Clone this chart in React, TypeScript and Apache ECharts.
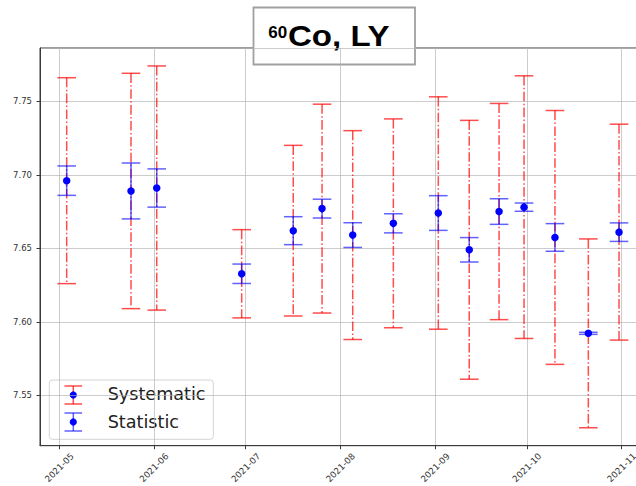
import React, { useEffect, useRef } from "react";
import * as echarts from "echarts";

// ---- data ----
const DATES = [
  "2021-05-03T10:00:00Z",
  "2021-05-24T11:00:00Z",
  "2021-06-01T21:00:00Z",
  "2021-06-29T16:00:00Z",
  "2021-07-16T13:00:00Z",
  "2021-07-25T23:00:00Z",
  "2021-08-05T00:00:00Z",
  "2021-08-18T07:00:00Z",
  "2021-09-02T00:00:00Z",
  "2021-09-12T03:00:00Z",
  "2021-09-21T21:00:00Z",
  "2021-09-30T01:00:00Z",
  "2021-10-10T04:00:00Z",
  "2021-10-21T02:00:00Z",
  "2021-10-31T03:00:00Z",
];
const VALUES = [7.696, 7.689, 7.691, 7.6327, 7.662, 7.677, 7.659, 7.667, 7.674, 7.649, 7.675, 7.678, 7.6574, 7.5922, 7.661];
const STAT_ERR = [0.010, 0.019, 0.013, 0.0066, 0.0095, 0.0064, 0.0084, 0.0065, 0.0118, 0.0083, 0.0087, 0.0028, 0.0094, 0.0007, 0.0063];
const SYS_ERR = [0.070, 0.080, 0.083, 0.030, 0.058, 0.071, 0.071, 0.071, 0.079, 0.088, 0.0735, 0.0893, 0.0863, 0.0642, 0.0734];
const LEGEND_NAMES = ["Systematic", "Statistic"];

const DAY = 86400000;
const MAY1 = Date.UTC(2021, 4, 1);
const X_MIN = MAY1 - 6.314 * DAY;
const X_MAX = MAY1 + 192.93 * DAY;

const RED = "rgba(255,0,0,0.7)";
const BLUE = "rgba(0,0,255,0.62)";
const CAP = 9.3;

function errRenderer(color: string, dash: number[] | null) {
  return (params: any, api: any) => {
    const x = api.value(0);
    const y = api.value(1);
    const e = api.value(2);
    const top = api.coord([x, y + e]);
    const bot = api.coord([x, y - e]);
    const st: any = { stroke: color, lineWidth: 1.5, fill: null };
    const mainSt: any = { ...st };
    if (dash) mainSt.lineDash = dash;
    return {
      type: "group",
      children: [
        { type: "line", shape: { x1: top[0], y1: top[1], x2: bot[0], y2: bot[1] }, style: mainSt },
        { type: "line", shape: { x1: top[0] - CAP, y1: top[1], x2: top[0] + CAP, y2: top[1] }, style: st },
        { type: "line", shape: { x1: bot[0] - CAP, y1: bot[1], x2: bot[0] + CAP, y2: bot[1] }, style: st },
      ],
    };
  };
}

export default function App() {
  const ref = useRef<HTMLDivElement>(null);
  useEffect(() => {
    const chart = echarts.init(ref.current!, null, { renderer: "svg" });
    const ts = DATES.map((d) => Date.parse(d));
    const sysData = ts.map((t, i) => [t, VALUES[i], SYS_ERR[i]]);
    const statData = ts.map((t, i) => [t, VALUES[i], STAT_ERR[i]]);
    const ptData = ts.map((t, i) => [t, VALUES[i]]);

    const legendIcon = (cy: number, color: string) => [
      { type: "line", shape: { x1: 73.3, y1: cy - 9, x2: 73.3, y2: cy + 9 }, style: { stroke: color, lineWidth: 1.5 } },
      { type: "line", shape: { x1: 64.5, y1: cy - 9, x2: 82.1, y2: cy - 9 }, style: { stroke: color, lineWidth: 1.5 } },
      { type: "line", shape: { x1: 64.5, y1: cy + 9, x2: 82.1, y2: cy + 9 }, style: { stroke: color, lineWidth: 1.5 } },
      { type: "circle", shape: { cx: 73.3, cy, r: 3.6 }, style: { fill: "#0000ff" } },
    ];

    chart.setOption({
      animation: false,
      useUTC: true,
      backgroundColor: "#ffffff",
      grid: {
        left: 40,
        top: 48,
        width: 609,
        height: 401,
        show: true,
        borderColor: "#3a3a3a",
        borderWidth: 1,
        backgroundColor: "transparent",
      },
      xAxis: {
        type: "time",
        min: X_MIN,
        max: X_MAX,
        splitNumber: 6,
        axisLine: { show: true, lineStyle: { color: "#3a3a3a", width: 1 } },
        axisTick: { show: true, length: 3.5, lineStyle: { color: "#3a3a3a" } },
        splitLine: { show: true, lineStyle: { color: "rgba(176,176,176,0.65)", width: 1 } },
        axisLabel: {
          formatter: "{yyyy}-{MM}",
          rotate: 45,
          align: "center",
          verticalAlign: "middle",
          margin: 22,
          fontSize: 8.8,
          fontFamily: "DejaVu Sans",
          color: "#333",
          showMinLabel: false,
          showMaxLabel: false,
        },
      },
      yAxis: {
        type: "value",
        min: 7.5158,
        max: 7.7862,
        splitNumber: 5,
        axisLine: { show: true, lineStyle: { color: "#3a3a3a", width: 1 } },
        axisTick: { show: true, length: 3.5, lineStyle: { color: "#3a3a3a" } },
        splitLine: { show: true, lineStyle: { color: "rgba(176,176,176,0.65)", width: 1 } },
        axisLabel: {
          formatter: (v: number) => v.toFixed(2),
          showMinLabel: false,
          showMaxLabel: false,
          fontSize: 8.5,
          fontFamily: "DejaVu Sans",
          color: "#333",
          margin: 8,
        },
      },
      series: [
        {
          name: LEGEND_NAMES[0],
          type: "custom",
          renderItem: errRenderer(RED, [9.6, 2.4, 1.5, 2.4]),
          encode: { x: 0, y: 1 },
          data: sysData,
          z: 2,
        },
        {
          name: LEGEND_NAMES[1],
          type: "custom",
          renderItem: errRenderer(BLUE, null),
          encode: { x: 0, y: 1 },
          data: statData,
          z: 3,
        },
        {
          name: "value",
          type: "scatter",
          symbol: "circle",
          symbolSize: 7.5,
          itemStyle: { color: "#0000ff", opacity: 1 },
          data: ptData,
          z: 4,
        },
      ],
      graphic: [
        {
          type: "group",
          z: 100,
          children: [
            {
              type: "rect",
              shape: { x: 49.3, y: 380, width: 164, height: 59.3, r: 3 },
              style: { fill: "rgba(255,255,255,0.8)", stroke: "#d4d4d4", lineWidth: 1 },
            },
            ...legendIcon(395, RED),
            ...legendIcon(422, BLUE),
            {
              type: "text",
              x: 107.7,
              y: 394.2,
              style: { text: LEGEND_NAMES[0], fontSize: 17.6, fontFamily: "DejaVu Sans", fill: "#222", textAlign: "left", textVerticalAlign: "middle" },
            },
            {
              type: "text",
              x: 107.7,
              y: 421.8,
              style: { text: LEGEND_NAMES[1], fontSize: 17.6, fontFamily: "DejaVu Sans", fill: "#222", textAlign: "left", textVerticalAlign: "middle" },
            },
          ],
        },
        {
          type: "group",
          z: 110,
          children: [
            {
              type: "rect",
              shape: { x: 253.5, y: 7.5, width: 161.5, height: 57 },
              style: { fill: "#ffffff", stroke: "#a0a0a0", lineWidth: 1.8 },
            },
            {
              type: "text",
              x: 268.3,
              y: 32,
              style: { text: "60", fontSize: 17, fontWeight: "bold", fontFamily: "Liberation Sans", fill: "#000", textAlign: "left", textVerticalAlign: "middle" },
            },
            {
              type: "text",
              x: 288,
              y: 35.8,
              scaleX: 1.14,
              style: { text: "Co, LY", fontSize: 29, fontWeight: "bold", fontFamily: "Liberation Sans", fill: "#000", textAlign: "left", textVerticalAlign: "middle" },
            },
          ],
        },
      ],
    });
    return () => chart.dispose();
  }, []);
  return (
    <div style={{ position: "fixed", left: 0, top: 0, width: 636, height: 486, overflow: "hidden" }}>
      <div ref={ref} style={{ width: 670, height: 486 }} />
    </div>
  );
}
